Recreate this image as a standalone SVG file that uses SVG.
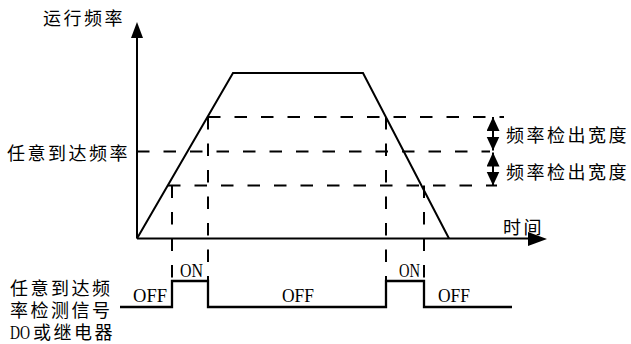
<svg xmlns="http://www.w3.org/2000/svg" width="631" height="344" viewBox="0 0 631 344">
<defs>
<style>
.cjk{font-family:"Noto Sans CJK SC","Noto Sans CJK JP",sans-serif;font-size:18px;letter-spacing:2.5px;fill:#000}
.lat{font-family:"Liberation Serif",serif;font-size:18px;fill:#000}
.solid{fill:none;stroke:#000;stroke-width:2}
.dash{fill:none;stroke:#000;stroke-width:2;stroke-dasharray:12.5 14}
</style>
<marker id="dh" markerUnits="userSpaceOnUse" markerWidth="14" markerHeight="14" refX="14" refY="6.5" orient="auto-start-reverse">
<path d="M0,0 L14,6.5 L0,13 z" fill="#000"/>
</marker>
</defs>
<rect width="631" height="344" fill="#fff"/>
<g id="axes">
<line class="solid" x1="137" y1="238.5" x2="137" y2="36"/>
<polygon points="137,22 131,38 143,38" fill="#000"/>
<line class="solid" x1="137" y1="238.5" x2="530" y2="238.5"/>
<polygon points="547,239 528,232 528,246" fill="#000"/>
</g>
<g id="curve">
<polyline class="solid" points="137,238.5 233,73 363,73 449,238.5"/>
</g>
<g id="guides">
<line class="dash" x1="208" y1="117" x2="504" y2="117"/>
<line class="dash" x1="137" y1="151.5" x2="490" y2="151.5"/>
<line class="dash" x1="168" y1="185.5" x2="497" y2="185.5"/>
<line class="dash" x1="172" y1="185.5" x2="172" y2="281"/>
<line class="dash" x1="208" y1="117" x2="208" y2="281"/>
<line class="dash" x1="386" y1="117" x2="386" y2="281"/>
<line class="dash" x1="424" y1="185.5" x2="424" y2="281"/>
</g>
<g id="widths">
<line class="solid" x1="493" y1="117" x2="493" y2="150.5" marker-start="url(#dh)" marker-end="url(#dh)"/>
<line class="solid" x1="493" y1="152.5" x2="493" y2="185.5" marker-start="url(#dh)" marker-end="url(#dh)"/>
</g>
<g id="signal">
<polyline class="solid" style="stroke-width:2.3" points="120,307 172,307 172,281 208,281 208,307 386,307 386,281 424,281 424,307 512,307"/>
</g>
<g id="labels">
<text class="cjk" x="43" y="25">运行频率</text>
<text class="cjk" x="7" y="160">任意到达频率</text>
<text class="cjk" x="506" y="142">频率检出宽度</text>
<text class="cjk" x="506" y="179">频率检出宽度</text>
<text class="cjk" x="503" y="234">时间</text>
<text class="cjk" x="10" y="295"><tspan x="10" y="295">任意到达频</tspan><tspan x="10" y="317">率检测信号</tspan><tspan x="10" y="339" style="font-family:'Liberation Serif',serif;letter-spacing:0" textLength="20" lengthAdjust="spacingAndGlyphs">DO</tspan><tspan x="33" y="339">或继电器</tspan></text>
<text class="lat" x="133" y="302" textLength="34" lengthAdjust="spacingAndGlyphs">OFF</text>
<text class="lat" x="282" y="302" textLength="32" lengthAdjust="spacingAndGlyphs">OFF</text>
<text class="lat" x="438" y="302" textLength="32" lengthAdjust="spacingAndGlyphs">OFF</text>
<text class="lat" x="180" y="277" textLength="23" lengthAdjust="spacingAndGlyphs">ON</text>
<text class="lat" x="399" y="277" textLength="21" lengthAdjust="spacingAndGlyphs">ON</text>
</g>
</svg>
